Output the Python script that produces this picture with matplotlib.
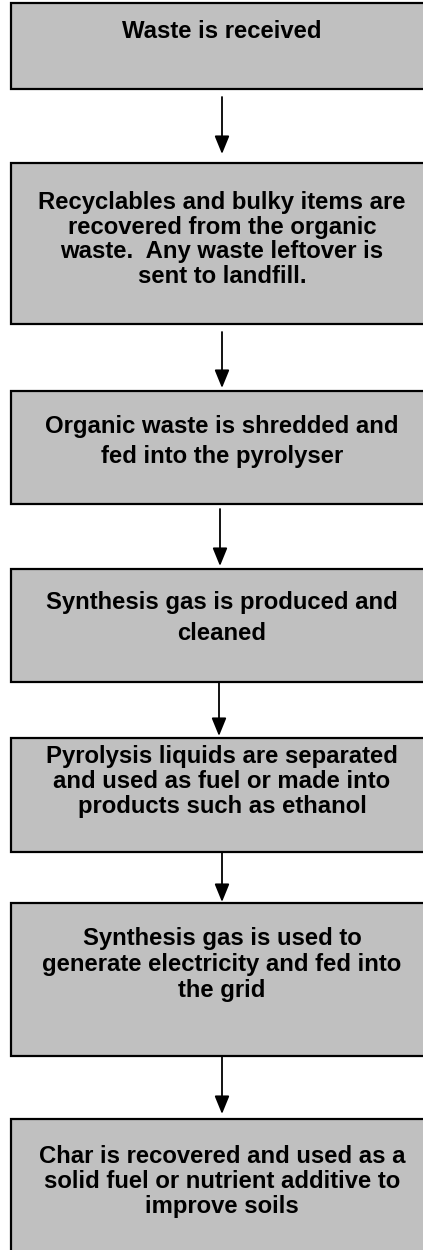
import matplotlib.pyplot as plt
from matplotlib.patches import Rectangle

# Steps of the process (one box each)
steps = [
    "Waste is received",
    "Recyclables and bulky items are\nrecovered from the organic\nwaste.  Any waste leftover is\nsent to landfill.",
    "Organic waste is shredded and\nfed into the pyrolyser",
    "Synthesis gas is produced and\ncleaned",
    "Pyrolysis liquids are separated\nand used as fuel or made into\nproducts such as ethanol",
    "Synthesis gas is used to\ngenerate electricity and fed into\nthe grid",
    "Char is recovered and used as a\nsolid fuel or nutrient additive to\nimprove soils",
]

# layout in pixels (y from the top)
box_top = [3, 163, 391, 569, 738, 903, 1119]
box_bottom = [89, 324, 504, 682, 852, 1056, 1262]
text_top = [20, 191, 415, 591, 745, 927, 1145]
line_spacing = [1.12, 1.095, 1.39, 1.42, 1.12, 1.165, 1.12]
arrow_start = [97, 332, 509, 682, 852, 1056]
arrow_end = [154, 388, 566, 736, 902, 1114]
arrow_x = [222, 222, 220, 219, 222, 222]

box_left = 11
box_right = 433
text_x = 222

fig = plt.figure(figsize=(4.23, 12.5), dpi=100)
ax = fig.add_axes([0, 0, 1, 1])
ax.set_xlim(0, 423)
ax.set_ylim(1250, 0)
ax.axis('off')

for i, label in enumerate(steps):
    rect = Rectangle((box_left, box_top[i]), box_right - box_left,
                     box_bottom[i] - box_top[i],
                     facecolor='#c0c0c0', edgecolor='black', linewidth=1.6)
    ax.add_patch(rect)
    ax.text(text_x, text_top[i], label, ha='center', va='top',
            fontsize=17.2, fontweight='bold', family='Liberation Sans',
            linespacing=line_spacing[i], color='black')

for i in range(len(arrow_start)):
    ax.annotate('', xy=(arrow_x[i], arrow_end[i]), xytext=(arrow_x[i], arrow_start[i]),
                arrowprops=dict(arrowstyle='-|>,head_length=1.1,head_width=0.45',
                                color='black', lw=1.3, shrinkA=0, shrinkB=0))

plt.savefig('out.png', dpi=100)
